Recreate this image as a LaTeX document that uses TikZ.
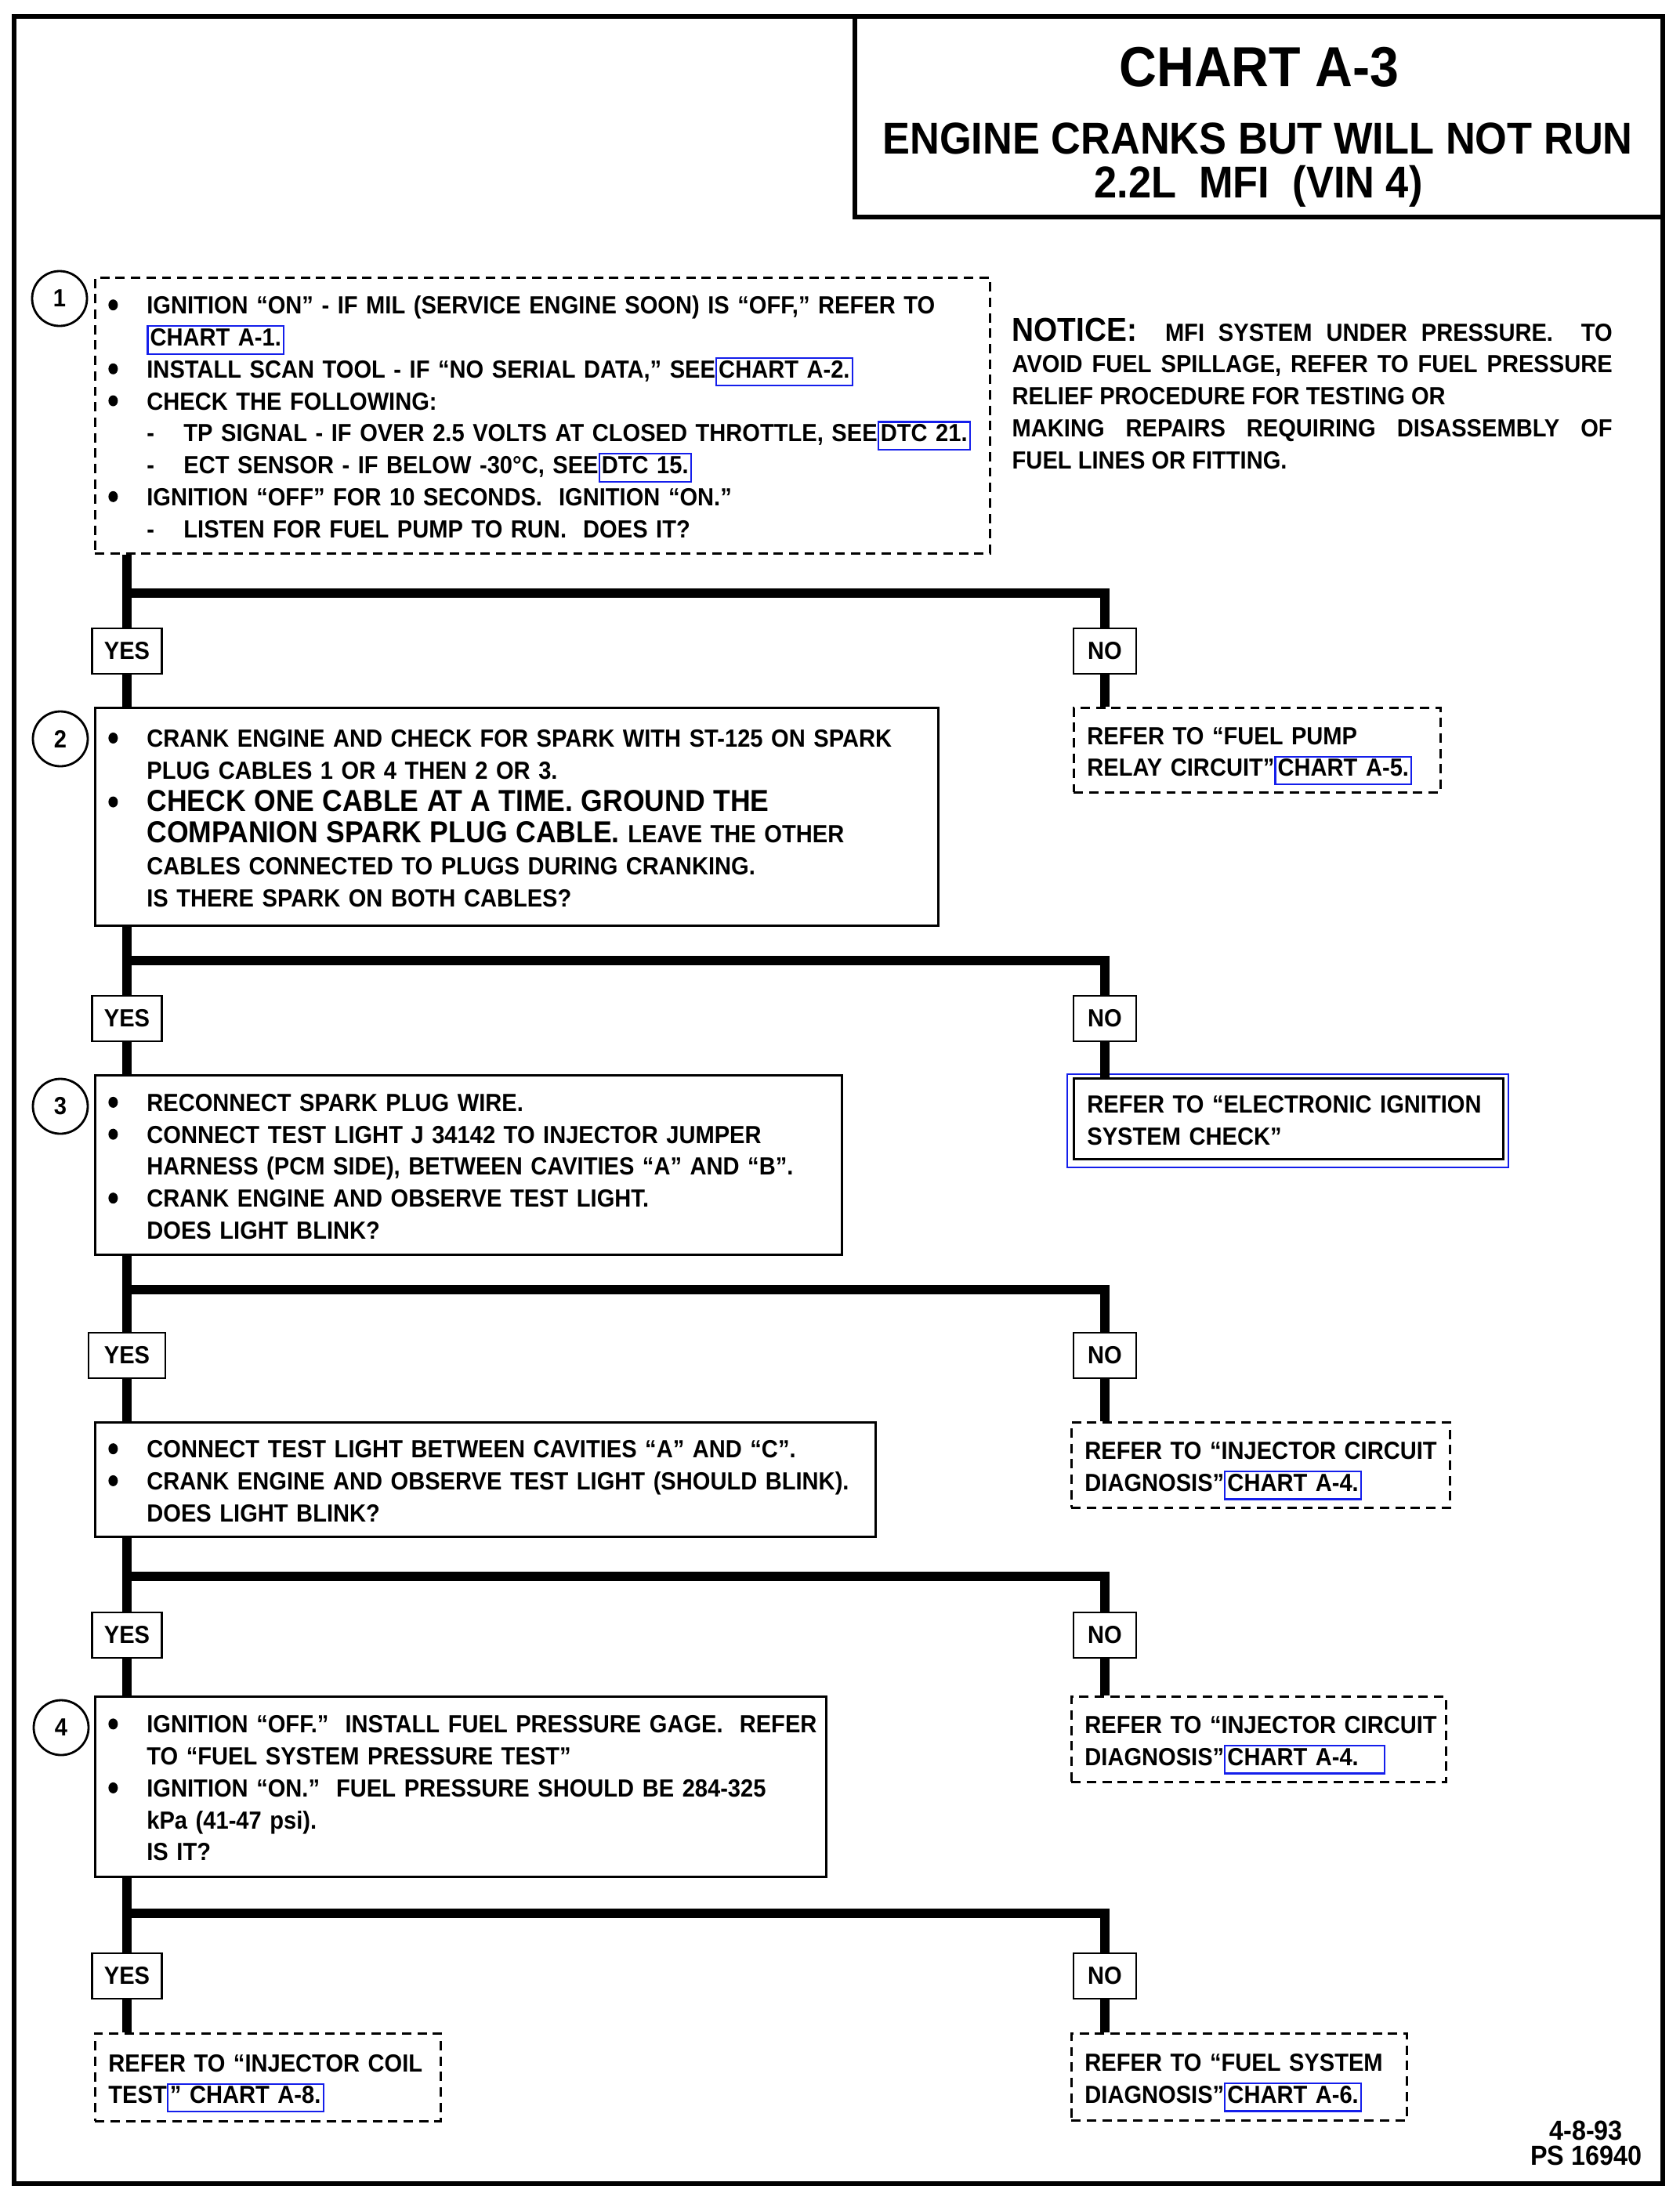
\documentclass[tikz,border=0pt]{standalone}
\usepackage{fontspec}
\setmainfont{Liberation Sans}[FakeStretch=0.92]
\usepackage{xcolor}
\definecolor{linkblue}{RGB}{20, 30, 235}

\newcommand{\boxfont}{\bfseries\fontsize{9}{11.6}\selectfont}
\newcommand{\bigstep}{\fontsize{11}{11.6}\selectfont}
\newcommand{\steprule}{\rule[-0.05cm]{0pt}{0.36cm}}
\newcommand{\stepdot}{\tikz[baseline=0pt]\fill (0.06,0.115) ellipse[x radius=0.06cm, y radius=0.07cm];}
\newcommand{\stepbul}[1]{\mbox{\steprule\makebox[0.49cm][l]{\stepdot}#1}}
\newcommand{\stepcont}[1]{\mbox{\steprule\hspace*{0.49cm}#1}}
\newcommand{\stepdash}[1]{\mbox{\steprule\hspace*{0.49cm}\makebox[0.47cm][l]{-}#1}}
\newcommand{\stepline}[1]{\mbox{\steprule#1}}
\newcommand{\chartref}[1]{{\fboxrule=0.6pt\fboxsep=0.6pt\textcolor{linkblue}{\smash{\fbox{\color{black}\rule[-0.07cm]{0pt}{0.28cm}#1}}}}}

\begin{document}
\begin{tikzpicture}[
		flow/.style={line width=3.2pt},
		stepbox/.style={draw, line width=0.8pt, anchor=north west, inner xsep=0.17cm, inner ysep=0pt, align=left, font=\boxfont},
		refbox/.style={stepbox, dash pattern=on 3.4pt off 2.2pt},
		answer/.style={draw, line width=0.8pt, minimum height=0.58cm, inner sep=0pt, font=\boxfont},
		stepnum/.style={circle, draw, line width=0.8pt, minimum size=0.70cm, inner sep=0pt, font=\bfseries\fontsize{9}{9}\selectfont}
	]
	\useasboundingbox (0,0) rectangle (21.44,-27.99);
	\draw[line width=1.5pt] (0.18,-0.21) rectangle (21.22,-27.87);

	% title
	\draw[line width=1.5pt] (10.91,-0.21) rectangle (21.22,-2.77);
	\node[font=\bfseries\fontsize{20.5}{24}\selectfont, anchor=base] (chart) at (16.07,-1.10) {CHART A-3};
	\node[font=\bfseries\fontsize{16.2}{18}\selectfont, anchor=base] (engine) at (16.05,-1.96) {ENGINE CRANKS BUT WILL NOT RUN};
	\node[font=\bfseries\fontsize{16.2}{18}\selectfont, anchor=base] (vin) at (16.06,-2.52) {2.2L\ \ MFI\ \ (VIN 4)};

	\node[font=\boxfont, text width=7.66cm, align=justify, anchor=north west, inner sep=0pt] (notice) at (12.91,-4.035) {\steprule{\fontsize{12}{11.6}\selectfont NOTICE:}\ \ MFI SYSTEM UNDER PRESSURE.\ \ TO\linebreak
		AVOID FUEL SPILLAGE, REFER TO FUEL PRESSURE\linebreak
		RELIEF PROCEDURE FOR TESTING OR\newline
		MAKING REPAIRS REQUIRING DISASSEMBLY OF\linebreak
		FUEL LINES OR FITTING.};

	% step boxes
	\node[refbox, text width=11.08cm, minimum height=3.52cm] (box1) at (1.20,-3.53) {%
		\stepbul{IGNITION “ON” - IF MIL (SERVICE ENGINE SOON) IS “OFF,” REFER TO}\\
		\stepcont{\chartref{CHART A-1.}}\\
		\stepbul{INSTALL SCAN TOOL - IF “NO SERIAL DATA,” SEE\chartref{CHART A-2.}}\\
		\stepbul{CHECK THE FOLLOWING:}\\
		\stepdash{TP SIGNAL - IF OVER 2.5 VOLTS AT CLOSED THROTTLE, SEE\chartref{DTC 21.}}\\
		\stepdash{ECT SENSOR - IF BELOW -30°C, SEE\chartref{DTC 15.}}\\
		\stepbul{IGNITION “OFF” FOR 10 SECONDS.\ \ IGNITION “ON.”}\\
		\stepdash{LISTEN FOR FUEL PUMP TO RUN.\ \ DOES IT?}};
	\node[stepbox, text width=10.42cm, minimum height=2.78cm] (box2) at (1.20,-9.02) {%
		\stepbul{CRANK ENGINE AND CHECK FOR SPARK WITH ST-125 ON SPARK}\\
		\stepcont{PLUG CABLES 1 OR 4 THEN 2 OR 3.}\\
		\stepbul{{\bigstep CHECK ONE CABLE AT A TIME. GROUND THE}}\\
		\stepcont{{\bigstep COMPANION SPARK PLUG CABLE.} LEAVE THE OTHER}\\
		\stepcont{CABLES CONNECTED TO PLUGS DURING CRANKING.}\\
		\stepcont{IS THERE SPARK ON BOTH CABLES?}};
	\node[stepbox, text width=9.19cm, minimum height=2.29cm] (box3) at (1.20,-13.71) {%
		\stepbul{RECONNECT SPARK PLUG WIRE.}\\
		\stepbul{CONNECT TEST LIGHT J 34142 TO INJECTOR JUMPER}\\
		\stepcont{HARNESS (PCM SIDE), BETWEEN CAVITIES “A” AND “B”.}\\
		\stepbul{CRANK ENGINE AND OBSERVE TEST LIGHT.}\\
		\stepcont{DOES LIGHT BLINK?}};
	\node[stepbox, text width=9.62cm, minimum height=1.46cm] (box3b) at (1.20,-18.14) {%
		\stepbul{CONNECT TEST LIGHT BETWEEN CAVITIES “A” AND “C”.}\\
		\stepbul{CRANK ENGINE AND OBSERVE TEST LIGHT (SHOULD BLINK).}\\
		\stepcont{DOES LIGHT BLINK?}};
	\node[stepbox, text width=8.99cm, minimum height=2.30cm] (box4) at (1.20,-21.64) {%
		\stepbul{IGNITION “OFF.”\ \ INSTALL FUEL PRESSURE GAGE.\ \ REFER}\\
		\stepcont{TO “FUEL SYSTEM PRESSURE TEST”}\\
		\stepbul{IGNITION “ON.”\ \ FUEL PRESSURE SHOULD BE 284-325}\\
		\stepcont{kPa (41-47 psi).}\\
		\stepcont{IS IT?}};

	\node[stepnum] (n1) at (0.76,-3.81) {1};
	\node[stepnum] (n2) at (0.77,-9.43) {2};
	\node[stepnum] (n3) at (0.77,-14.12) {3};
	\node[stepnum] (n4) at (0.78,-22.05) {4};

	% results
	\node[refbox, text width=4.34cm, minimum height=1.08cm] (ref1) at (13.69,-9.02) {%
		\stepline{REFER TO “FUEL PUMP}\\ \stepline{RELAY CIRCUIT”\chartref{CHART A-5.}}};
	\node[stepbox, text width=5.14cm, minimum height=1.03cm] (ref2) at (13.69,-13.75) {%
		\stepline{REFER TO “ELECTRONIC IGNITION}\\ \stepline{SYSTEM CHECK”}};
	\draw[linkblue, line width=0.6pt] ([shift={(-0.07,0.04)}]ref2.north west) rectangle ([shift={(0.05,-0.09)}]ref2.south east);
	\node[refbox, text width=4.49cm, minimum height=1.09cm] (ref3) at (13.66,-18.14) {%
		\stepline{REFER TO “INJECTOR CIRCUIT}\\ \stepline{DIAGNOSIS”\chartref{CHART A-4.}}};
	\node[refbox, text width=4.44cm, minimum height=1.09cm] (ref4) at (13.66,-21.64) {%
		\stepline{REFER TO “INJECTOR CIRCUIT}\\ \stepline{DIAGNOSIS”\chartref{CHART A-4.\hspace{0.3cm}}}};
	\node[refbox, text width=4.07cm, minimum height=1.12cm] (ref5) at (1.20,-25.94) {%
		\stepline{REFER TO “INJECTOR COIL}\\ \stepline{TEST\chartref{” CHART A-8.}}};
	\node[refbox, text width=3.94cm, minimum height=1.11cm] (ref6) at (13.66,-25.94) {%
		\stepline{REFER TO “FUEL SYSTEM}\\ \stepline{DIAGNOSIS”\chartref{CHART A-6.}}};

	% answers and branches
	\foreach \i/\y/\j/\w in {1/-8.31/-7.57/0.89, 2/-13.00/-12.26/0.89, 3/-17.30/-16.46/0.98, 4/-20.87/-20.12/0.89, 5/-25.22/-24.42/0.89} {
		\node[answer, minimum width=\w cm] (yes\i) at (1.62,\y) {YES};
		\node[answer, minimum width=0.80cm] (no\i) at (14.10,\y) {NO};
		\coordinate (j\i) at (1.62,\j);
	}
	\foreach \i/\src/\dst/\alt in {1/box1/box2/ref1, 2/box2/box3/ref2, 3/box3/box3b/ref3, 4/box3b/box4/ref4, 5/box4/ref5/ref6} {
		\draw[flow] (\src.south -| yes\i) -- (yes\i.north);
		\draw[flow] (yes\i.south) -- (\dst.north -| yes\i);
		\draw[flow] (j\i) -| (no\i.north);
		\draw[flow] (no\i.south) -- (\alt.north -| no\i);
	}

	\node[font=\bfseries\fontsize{10}{9.1}\selectfont, align=center] (date) at (20.24,-27.35) {4-8-93\\PS 16940};
\end{tikzpicture}
\end{document}
